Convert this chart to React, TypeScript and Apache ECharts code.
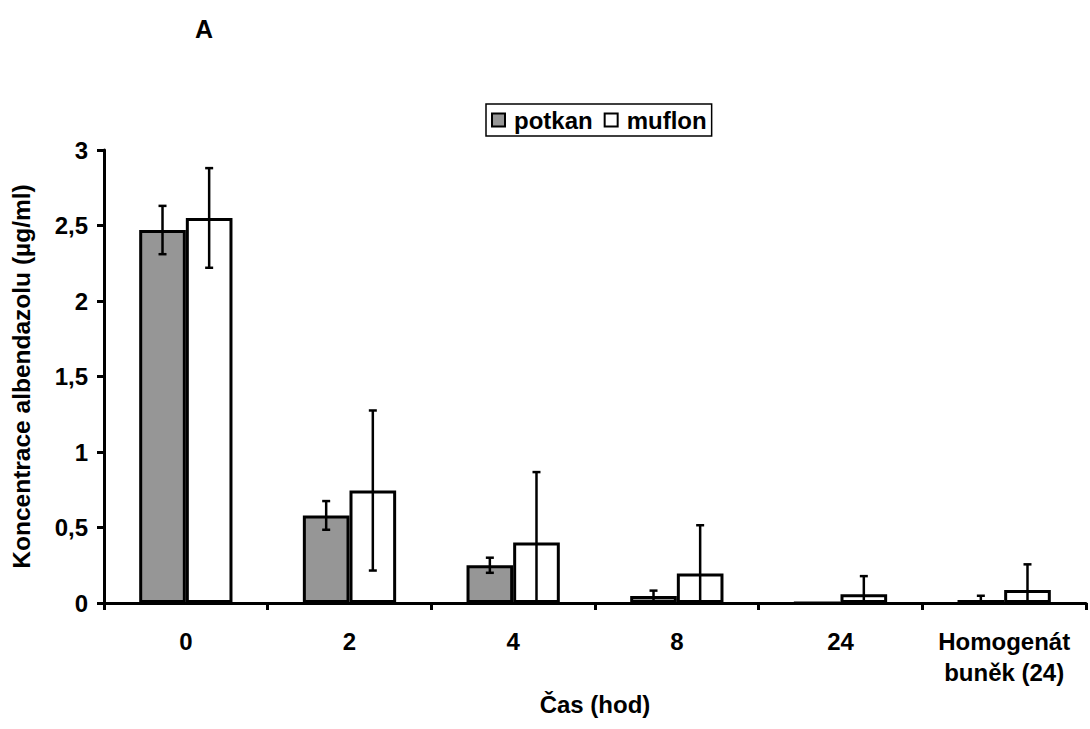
import React, { useEffect, useRef } from "react";
import * as echarts from "echarts";

// Sampling times (hours) plus the cell homogenate sample
const categories = ["0", "2", "4", "8", "24", "Homogenát\nbuněk (24)"];
const seriesNames = ["potkan", "muflon"];

// Mean albendazole concentration (µg/ml)
const potkan = [2.47, 0.58, 0.25, 0.046, 0, 0.02];
const muflon = [2.55, 0.745, 0.4, 0.195, 0.058, 0.086];

// Standard deviations
const potkanErr = [0.16, 0.095, 0.05, 0.036, 0, 0.028];
const muflonErr = [0.33, 0.53, 0.467, 0.32, 0.12, 0.17];

const yTicks = [0, 0.5, 1, 1.5, 2, 2.5, 3];

const FONT = "'Liberation Sans', Arial, sans-serif";
const CAT_GAP = 0.43;

function errorSeries(values: number[], errs: number[], side: number) {
  const data = values.map((v, i) => [i, v, errs[i]]);
  return {
    type: "custom",
    silent: true,
    z: 5,
    data,
    renderItem: (params: any, api: any) => {
      const idx = api.value(0);
      const val = api.value(1);
      const err = api.value(2);
      if (!err) return null;
      const band = api.size([1, 0])[0];
      const barW = (band * (1 - CAT_GAP)) / 2;
      const base = api.coord([idx, val]);
      const x = base[0] + (side * barW) / 2;
      const hi = val + err;
      const lo = Math.max(0, val - err);
      const yHi = api.coord([idx, hi])[1];
      const yLo = api.coord([idx, lo])[1];
      const cap = 4;
      const style = { stroke: "#000", lineWidth: 2.5, fill: "none" };
      const children: any[] = [
        { type: "line", shape: { x1: x, y1: yHi, x2: x, y2: yLo }, style },
        { type: "line", shape: { x1: x - cap, y1: yHi, x2: x + cap, y2: yHi }, style },
      ];
      if (val - err > 0) {
        children.push({
          type: "line",
          shape: { x1: x - cap, y1: yLo, x2: x + cap, y2: yLo },
          style,
        });
      }
      return { type: "group", children };
    },
  };
}

export default function App() {
  const ref = useRef<HTMLDivElement>(null);

  useEffect(() => {
    if (!ref.current) return;
    const chart = echarts.init(ref.current, undefined, { renderer: "svg" });
    const textBold = { fontFamily: FONT, fontWeight: "bold", color: "#000" };
    chart.setOption({
      animation: false,
      backgroundColor: "#fff",
      title: {
        text: "A",
        left: 195,
        top: 16,
        padding: 0,
        textStyle: { ...textBold, fontSize: 25 },
      },
      legend: {
        data: seriesNames,
        left: 486,
        top: 104,
        orient: "horizontal",
        icon: "rect",
        itemWidth: 13,
        itemHeight: 13,
        itemGap: 11,
        padding: [4, 5, 4, 5],
        borderColor: "#000",
        borderWidth: 1.5,
        textStyle: { ...textBold, fontSize: 24, padding: [0, 0, 0, 4] },
      },
      grid: { left: 104, right: 4, top: 150, bottom: 126, containLabel: false },
      xAxis: {
        type: "category",
        data: categories,
        boundaryGap: true,
        name: "Čas (hod)",
        nameLocation: "middle",
        nameGap: 80,
        nameTextStyle: { ...textBold, fontSize: 24 },
        axisLine: { lineStyle: { color: "#000", width: 3 } },
        axisTick: {
          show: true,
          interval: 0,
          length: 7,
          lineStyle: { color: "#000", width: 3 },
        },
        axisLabel: {
          ...textBold,
          interval: 0,
          hideOverlap: false,
          fontSize: 24,
          margin: 23,
          lineHeight: 31,
          verticalAlign: "top",
        },
      },
      yAxis: {
        type: "value",
        min: 0,
        max: 3,
        interval: 0.5,
        name: "Koncentrace albendazolu (µg/ml)",
        nameLocation: "middle",
        nameRotate: 90,
        nameGap: 70,
        nameTextStyle: { ...textBold, fontSize: 24.5 },
        splitLine: { show: false },
        axisLine: { show: true, lineStyle: { color: "#000", width: 3 } },
        axisTick: { show: true, length: 7, lineStyle: { color: "#000", width: 3 } },
        axisLabel: {
          ...textBold,
          fontSize: 24,
          margin: 16,
          formatter: (v: number) =>
            yTicks.includes(v) ? String(v).replace(".", ",") : "",
        },
      },
      series: [
        {
          name: seriesNames[0],
          type: "bar",
          data: potkan,
          barGap: "0%",
          barCategoryGap: CAT_GAP * 100 + "%",
          itemStyle: { color: "#969696", borderColor: "#000", borderWidth: 3 },
        },
        {
          name: seriesNames[1],
          type: "bar",
          data: muflon,
          barGap: "0%",
          barCategoryGap: CAT_GAP * 100 + "%",
          itemStyle: { color: "#ffffff", borderColor: "#000", borderWidth: 3 },
        },
        errorSeries(potkan, potkanErr, -1),
        errorSeries(muflon, muflonErr, 1),
      ],
    });
    return () => chart.dispose();
  }, []);

  return (
    <div
      ref={ref}
      style={{ position: "fixed", left: 0, top: 0, width: 1090, height: 729 }}
    />
  );
}
